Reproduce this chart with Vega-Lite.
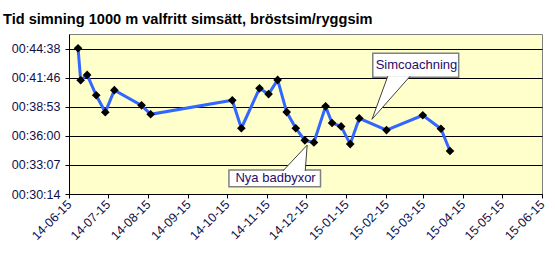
{
  "$schema": "https://vega.github.io/schema/vega-lite/v6.json",
  "width": 473,
  "height": 160,
  "autosize": {"type": "none"},
  "padding": {"left": 69, "top": 34, "right": 13, "bottom": 63},
  "background": "#ffffff",
  "title": {
    "text": "Tid simning 1000 m valfritt simsätt, bröstsim/ryggsim",
    "anchor": "start",
    "frame": "group",
    "dx": -66,
    "dy": 19,
    "offset": 14,
    "baseline": "alphabetic",
    "font": "Liberation Sans",
    "fontSize": 14.6,
    "fontWeight": "bold",
    "color": "#000000"
  },
  "config": {
    "view": {"fill": "#FFFFCC", "stroke": "#808080", "strokeWidth": 1},
    "axis": {
      "labelFont": "Liberation Sans",
      "labelFontSize": 12.5,
      "labelColor": "#10104a",
      "domainColor": "#000000",
      "tickColor": "#000000",
      "tickSize": 4,
      "title": null
    }
  },
  "datasets": {
    "punkter": [
      {"datum": "2014-06-22", "sek": 2680},
      {"datum": "2014-06-24", "sek": 2490},
      {"datum": "2014-06-29", "sek": 2522},
      {"datum": "2014-07-06", "sek": 2401},
      {"datum": "2014-07-13", "sek": 2300},
      {"datum": "2014-07-20", "sek": 2431},
      {"datum": "2014-08-10", "sek": 2341},
      {"datum": "2014-08-17", "sek": 2288},
      {"datum": "2014-10-19", "sek": 2371},
      {"datum": "2014-10-26", "sek": 2205},
      {"datum": "2014-11-09", "sek": 2442},
      {"datum": "2014-11-16", "sek": 2408},
      {"datum": "2014-11-23", "sek": 2492},
      {"datum": "2014-11-30", "sek": 2301},
      {"datum": "2014-12-07", "sek": 2205},
      {"datum": "2014-12-14", "sek": 2133},
      {"datum": "2014-12-21", "sek": 2121},
      {"datum": "2014-12-30", "sek": 2335},
      {"datum": "2015-01-04", "sek": 2236},
      {"datum": "2015-01-11", "sek": 2216},
      {"datum": "2015-01-18", "sek": 2111},
      {"datum": "2015-01-25", "sek": 2264},
      {"datum": "2015-02-15", "sek": 2194},
      {"datum": "2015-03-15", "sek": 2282},
      {"datum": "2015-03-29", "sek": 2202},
      {"datum": "2015-04-05", "sek": 2070}
    ],
    "rutor": [
      {"text": "Nya badbyxor", "x1": "2014-10-16T10:00:00Z", "x2": "2014-12-26T02:00:00Z", "y1": 1858, "y2": 1957, "tx": "2014-11-21T10:00:00Z", "ty": 1908},
      {"text": "Simcoachning", "x1": "2015-02-04T10:00:00Z", "x2": "2015-04-11T17:00:00Z", "y1": 2508, "y2": 2650, "tx": "2015-03-10T03:00:00Z", "ty": 2579}
    ],
    "pekare": [
      {"id": "a", "ord": 1, "d": "2014-11-27T00:00:00Z", "s": 1951},
      {"id": "a", "ord": 2, "d": "2014-12-15T19:00:00Z", "s": 2105},
      {"id": "a", "ord": 3, "d": "2014-12-14T07:00:00Z", "s": 1951},
      {"id": "b", "ord": 1, "d": "2015-02-16T00:00:00Z", "s": 2514},
      {"id": "b", "ord": 2, "d": "2015-02-03T19:00:00Z", "s": 2258},
      {"id": "b", "ord": 3, "d": "2015-03-05T05:00:00Z", "s": 2514}
    ]
  },
  "layer": [
    {
      "data": {"name": "punkter"},
      "mark": {"type": "line", "color": "#3366FF", "strokeWidth": 3},
      "encoding": {
        "x": {
          "field": "datum",
          "type": "temporal",
          "scale": {"type": "utc", "domain": [{"year": 2014, "month": 6, "date": 15, "utc": true}, {"year": 2015, "month": 6, "date": 15, "utc": true}]},
          "axis": {
            "values": [
              {"year": 2014, "month": 6, "date": 15, "utc": true},
              {"year": 2014, "month": 7, "date": 15, "utc": true},
              {"year": 2014, "month": 8, "date": 15, "utc": true},
              {"year": 2014, "month": 9, "date": 15, "utc": true},
              {"year": 2014, "month": 10, "date": 15, "utc": true},
              {"year": 2014, "month": 11, "date": 15, "utc": true},
              {"year": 2014, "month": 12, "date": 15, "utc": true},
              {"year": 2015, "month": 1, "date": 15, "utc": true},
              {"year": 2015, "month": 2, "date": 15, "utc": true},
              {"year": 2015, "month": 3, "date": 15, "utc": true},
              {"year": 2015, "month": 4, "date": 15, "utc": true},
              {"year": 2015, "month": 5, "date": 15, "utc": true},
              {"year": 2015, "month": 6, "date": 15, "utc": true}
            ],
            "tickCount": 30,
            "labelExpr": "utcFormat(datum.value, '%y-%m-%d')",
            "labelAngle": -45,
            "labelAlign": "right",
            "labelBaseline": "middle",
            "labelPadding": 4,
            "grid": false,
            "labelOverlap": false,
            "labelBound": false,
            "labelFlush": false
          }
        },
        "y": {
          "field": "sek",
          "type": "quantitative",
          "scale": {"domain": [1814.4, 2764.8], "nice": false, "zero": false},
          "axis": {
            "values": [1814.4, 1987.2, 2160, 2332.8, 2505.6, 2678.4],
            "tickCount": 30,
            "labelExpr": "'00:' + format(floor(round(datum.value) / 60), '02d') + ':' + format(round(datum.value) % 60, '02d')",
            "grid": true,
            "gridColor": "#000000",
            "gridOpacity": 1,
            "gridWidth": 1,
            "labelPadding": 5,
            "labelOverlap": false,
            "labelFlush": false
          }
        }
      }
    },
    {
      "data": {"name": "punkter"},
      "mark": {"type": "point", "shape": "diamond", "filled": true, "color": "#000000", "size": 75, "opacity": 1},
      "encoding": {
        "x": {"field": "datum", "type": "temporal"},
        "y": {"field": "sek", "type": "quantitative"}
      }
    },
    {
      "data": {"name": "rutor"},
      "mark": {"type": "rect", "fill": "#ffffff", "stroke": "#808080", "strokeWidth": 1.5},
      "encoding": {
        "x": {"field": "x1", "type": "temporal"},
        "x2": {"field": "x2"},
        "y": {"field": "y1", "type": "quantitative"},
        "y2": {"field": "y2"}
      }
    },
    {
      "data": {"name": "pekare"},
      "mark": {"type": "line", "fill": "#ffffff", "stroke": "#404040", "strokeWidth": 1},
      "encoding": {
        "x": {"field": "d", "type": "temporal"},
        "y": {"field": "s", "type": "quantitative"},
        "detail": {"field": "id"},
        "order": {"field": "ord"}
      }
    },
    {
      "data": {"name": "rutor"},
      "mark": {"type": "text", "font": "Liberation Sans", "fontSize": 13, "color": "#2a0a6a", "align": "center", "baseline": "middle"},
      "encoding": {
        "x": {"field": "tx", "type": "temporal"},
        "y": {"field": "ty", "type": "quantitative"},
        "text": {"field": "text"}
      }
    }
  ]
}
